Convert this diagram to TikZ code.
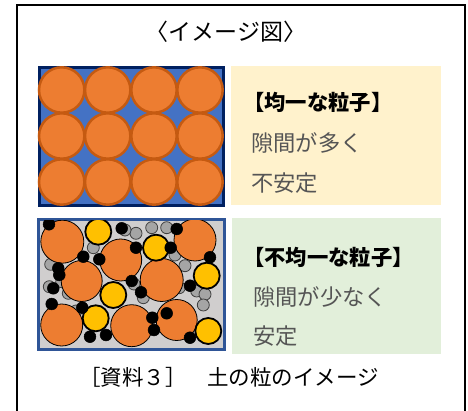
\documentclass[tikz,border=0pt]{standalone}
\usepackage{fontspec}
\newfontfamily\jp{Noto Sans CJK JP}
\definecolor{packblue}{HTML}{4472C4}
\definecolor{packnavy}{HTML}{002060}
\definecolor{grainorange}{HTML}{ED7D31}
\definecolor{grainedge}{HTML}{C55A11}
\definecolor{mixbg}{HTML}{D0CECE}
\definecolor{mixedge}{HTML}{2F5597}
\definecolor{grainyellow}{HTML}{FFC000}
\definecolor{graingrey}{HTML}{A5A5A5}
\definecolor{greyedge}{HTML}{404040}
\definecolor{panelyellow}{HTML}{FFF2CC}
\definecolor{panelgreen}{HTML}{E2EFDA}
\definecolor{notegrey}{HTML}{555555}
\tikzset{
  outerframe/.style={draw=black, line width=2.2pt},
  packbox/.style={fill=packblue, draw=packnavy, line width=3pt},
  packgrain/.style={fill=grainorange, draw=grainedge, line width=2.5pt},
  mixbox/.style={fill=mixbg, draw=mixedge, line width=3pt},
  biggrain/.style={fill=grainorange, draw=black, line width=0.8pt},
  midgrain/.style={fill=grainyellow, draw=black, line width=1.8pt},
  smallgrey/.style={fill=graingrey, draw=greyedge, line width=0.8pt},
  smallblack/.style={fill=black, draw=black, line width=0.5pt},
  txt/.style={inner sep=0pt, anchor=west},
  heading/.style={txt, font=\jp\bfseries\fontsize{21.3}{21.3}\selectfont, text=black},
  note/.style={txt, font=\jp\fontsize{22.3}{22.3}\selectfont, text=notegrey},
  title/.style={font=\jp\fontsize{23}{23}\selectfont, inner sep=0pt},
  caption/.style={font=\jp\fontsize{21.5}{21.5}\selectfont, inner sep=0pt}
}
\begin{document}
\begin{tikzpicture}[x=1pt,y=-1pt]
\useasboundingbox (0,0) rectangle (468,411);
% outer frame (open at the bottom edge)
\draw[outerframe] (17,411) -- (17,5) -- (465,5) -- (465,411);
\node[title] (title) at (226,32) {〈イメージ図〉};

% uniform grains: 4 x 3 packing
\draw[packbox] (39.5,67.5) rectangle (223.5,205.5);
\foreach \cx in {61.7,107.7,154,200}
  \foreach \cy in {90,136,182}
    \fill[packgrain] (\cx,\cy) circle[radius=22.7pt];

% mixed grains
\draw[mixbox] (38.5,219.5) rectangle (224.5,349.5);
\begin{scope}
\clip (40,221) rectangle (223,348);
\foreach \cx/\cy in {136/233.3,151.7/227.7,166.7/227.7,125/230,93.3/247.7,50.7/264.3,
  175/255,185/265.7,61.7/281.7,49.3/286.7,68.3/293.3,179.3/287.7,196.7/291,
  205/294.3,143.3/297.7,134/284,203.3/305,76/311}
  \draw[smallgrey] (\cx,\cy) circle[radius=6pt];
\foreach \cx/\cy/\r in {62.3/241.7/21.5,120.7/260/21,195/240/21,81.7/281/20.5,
  161.7/280/21.5,61.7/325/21,131.7/325.7/21,176.7/320/20.5}
  \draw[biggrain] (\cx,\cy) circle[radius=\r pt];
\foreach \cx/\cy in {98.3/231.7,156/247.7,206.7/275.7,113.3/295,95.7/318.3,208.3/331}
  \draw[midgrain] (\cx,\cy) circle[radius=13pt];
\foreach \cx/\cy in {49/224.3,121.7/228.3,176.7/229,136/247.7,170.7/247.7,83.3/256.7,
  99.3/259.3,210/257.3,58.3/268.3,59.3/275,131.7/281,53.3/288.3,190/285.7,
  141/292.3,51.7/304,82.3/307.7,166.7/313.3,152.3/317.7,154/330,90/336.7,
  106/335,190/337.7}
  \draw[smallblack] (\cx,\cy) circle[radius=5.9pt];
\end{scope}

% description panels
\fill[panelyellow] (231,66) rectangle (441,205);
\fill[panelgreen] (232,218) rectangle (441,354);
\node[heading] (h1) at (243,102) {【均一な粒子】};
\node[note] (n1a) at (251,143) {隙間が多く};
\node[note] (n1b) at (251,183) {不安定};
\node[heading] (h2) at (243,257) {【不均一な粒子】};
\node[note] (n2a) at (253,297) {隙間が少なく};
\node[note] (n2b) at (253,336) {安定};

\node[caption] (cap) at (229,377) {［資料３］\hspace{0.95em}土の粒のイメージ};
\end{tikzpicture}
\end{document}
